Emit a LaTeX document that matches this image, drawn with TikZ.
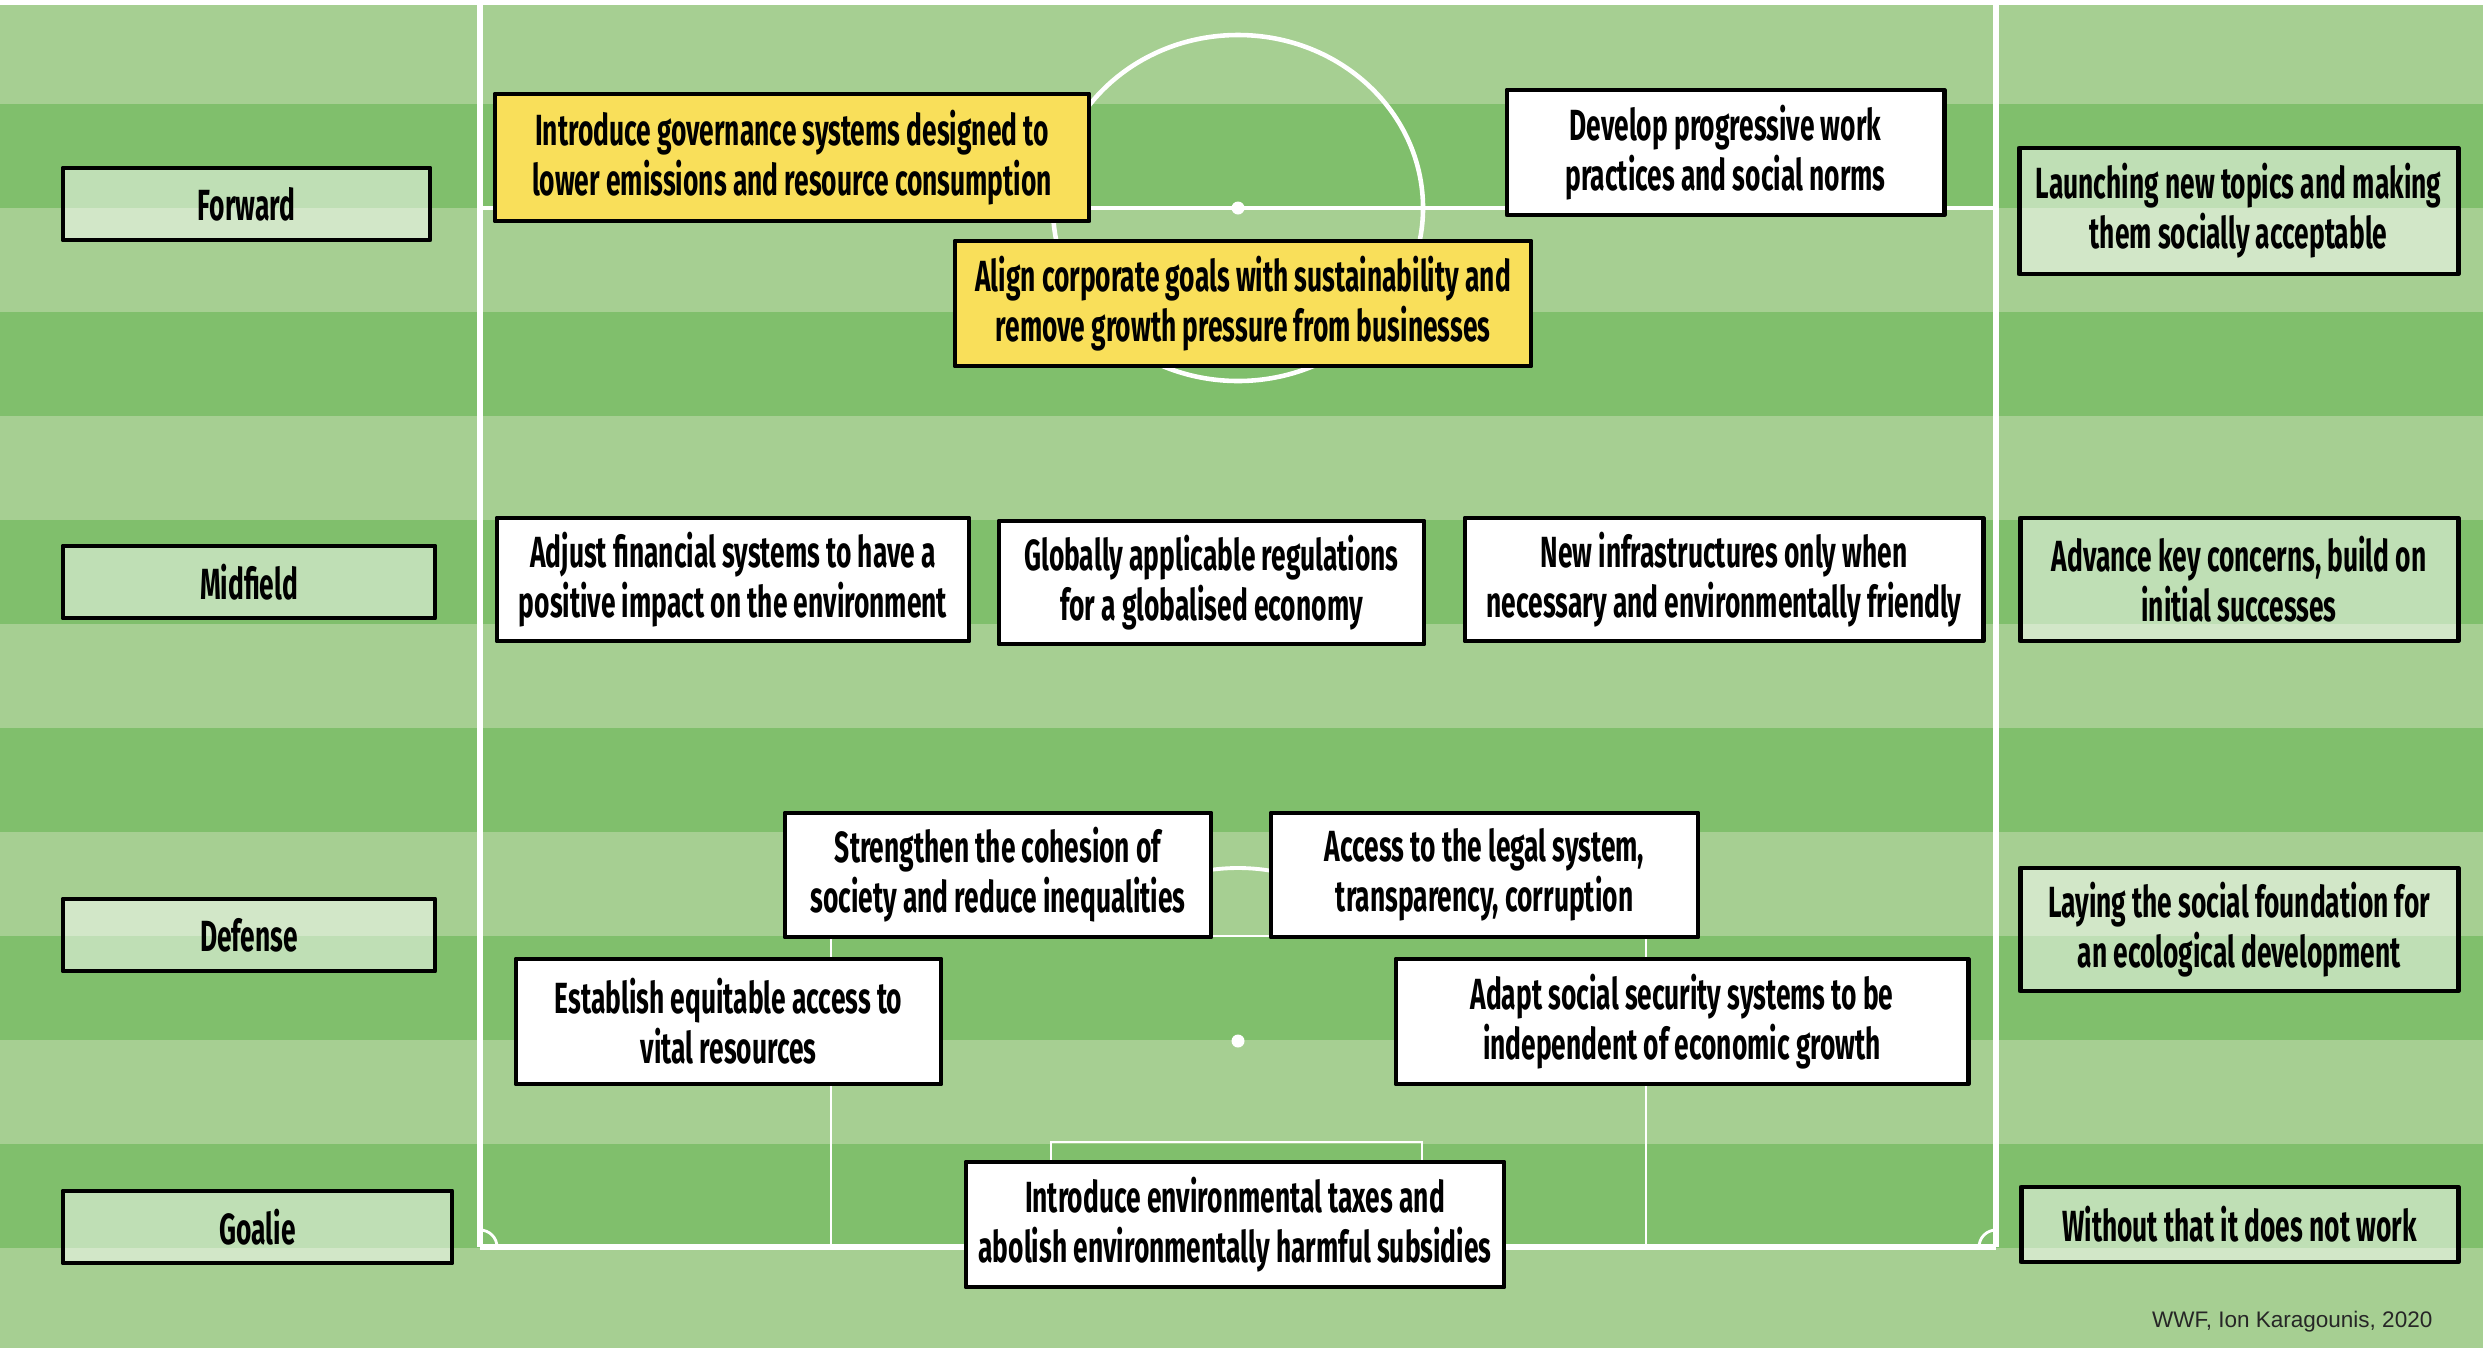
\documentclass[tikz,border=0pt]{standalone}
\usepackage{fontspec}
\newfontfamily\cardfont{Fira Sans}[FakeStretch=0.605]
\newfontfamily\creditfont{Liberation Sans}

\definecolor{grassLight}{RGB}{166,207,146}
\definecolor{grassDark}{RGB}{128,191,108}
\definecolor{cardYellow}{RGB}{249,223,90}

\tikzset{
  span/.style n args={4}{
    at={({(#1+#3)/2},{(#2+#4)/2})},
    minimum width={(#3-#1)*0.01cm},
    minimum height={(#4-#2)*0.01cm}},
  card/.style={draw=black, line width=1.4pt, line join=round, align=center,
    inner sep=0pt, text=black,
    font=\cardfont\bfseries\fontsize{12.4}{14.2}\selectfont},
  rolecard/.style={card, fill=white, fill opacity=0.5, text opacity=1, draw opacity=1},
  plaincard/.style={card, fill=white},
  goldcard/.style={card, fill=cardYellow},
  touchline/.style={white, line width=1.5pt},
  markline/.style={white, line width=1.1pt},
  thinline/.style={white, line width=0.8pt},
}

\begin{document}
\begin{tikzpicture}[x=0.01cm, y=-0.01cm]
\useasboundingbox (0,0) rectangle (2483,1348);

% grass stripes
\fill[grassLight] (0,0) rectangle (2483,1348);
\foreach \k in {1,3,...,11}
  \fill[grassDark] (0,{104*\k}) rectangle (2483,{104*(\k+1)});
\fill[white] (0,0) rectangle (2483,5);

% pitch markings
\draw[touchline] (480,0) -- (480,1247);
\draw[touchline] (1996,0) -- (1996,1247);
\draw[touchline] (480,1247) -- (1996,1247);
\draw[markline] (480,208) -- (1996,208);
\draw[white, line width=1.3pt] (1238,208) ellipse[x radius=185, y radius=173];
\fill[white] (1238,208) circle[radius=6.5];
\draw[thinline] (831,1247) -- (831,936) -- (1646,936) -- (1646,1247);
\draw[thinline] (1051,1247) -- (1051,1142) -- (1422,1142) -- (1422,1247);
\fill[white] (1238,1041) circle[radius=6.5];
\begin{scope}
  \clip (900,800) rectangle (1600,936);
  \draw[white, line width=1.1pt] (1238,1041) ellipse[x radius=185, y radius=173];
\end{scope}
\draw[thinline] (497,1247) arc[start angle=0, end angle=-90, radius=17];
\draw[thinline] (1979,1247) arc[start angle=180, end angle=270, radius=17];

% positions on the left
\node[rolecard, span={63}{168}{430}{240}] (fwd) {Forward};
\node[rolecard, span={63}{546}{435}{618}] (mid) {Midfield};
\node[rolecard, span={63}{899}{435}{971}] (def) {Defense};
\node[rolecard, span={63}{1191}{452}{1263}] (goal) {Goalie};

% roles on the right
\node[rolecard, span={2019}{148}{2458}{274}] (rfwd) {Launching new topics and making\\them socially acceptable};
\node[rolecard, span={2020}{518}{2458}{641}] (rmid) {Advance key concerns, build on\\initial successes};
\node[rolecard, span={2020}{868}{2458}{991}] (rdef) {Laying the social foundation for\\an ecological development};
\node[rolecard, span={2021}{1187}{2458}{1262}] (rgoal) {Without that it does not work};

% forward line
\node[goldcard, span={495}{94}{1089}{221}] (gov) {Introduce governance systems designed to\\lower emissions and resource consumption};
\node[plaincard, span={1507}{90}{1944}{215}] (dev) {Develop progressive work\\practices and social norms};
\node[goldcard, span={955}{241}{1531}{366}] (align) {Align corporate goals with sustainability and\\remove growth pressure from businesses};

% midfield
\node[plaincard, span={497}{518}{969}{641}] (fin) {Adjust financial systems to have a\\positive impact on the environment};
\node[plaincard, span={999}{521}{1424}{644}] (reg) {Globally applicable regulations\\for a globalised economy};
\node[plaincard, span={1465}{518}{1983}{641}] (infra) {New infrastructures only when\\necessary and environmentally friendly};

% defense
\node[plaincard, span={785}{813}{1211}{937}] (coh) {Strengthen the cohesion of\\society and reduce inequalities};
\node[plaincard, span={1271}{813}{1698}{937}] (legal) {Access to the legal system,\\transparency, corruption};
\node[plaincard, span={516}{959}{941}{1084}] (res) {Establish equitable access to\\vital resources};
\node[plaincard, span={1396}{959}{1968}{1084}] (soc) {Adapt social security systems to be\\independent of economic growth};

% goalkeeper
\node[plaincard, span={966}{1162}{1504}{1287}] (tax) {Introduce environmental taxes and\\abolish environmentally harmful subsidies};

% source
\node[anchor=base east, inner sep=0pt, text=black!85,
  font=\creditfont\fontsize{6.4}{7.7}\selectfont] (credit) at (2433,1327) {WWF, Ion Karagounis, 2020};
\end{tikzpicture}
\end{document}
